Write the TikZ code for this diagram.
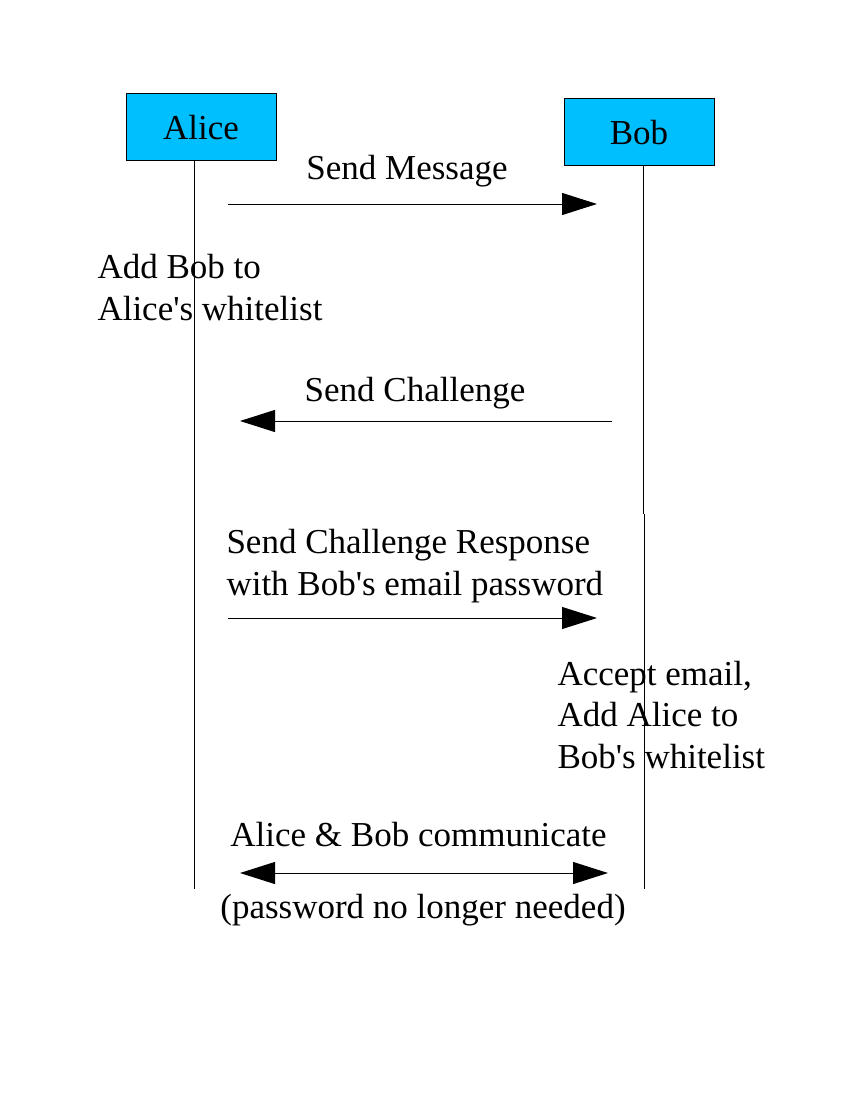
\documentclass[tikz,border=0pt]{standalone}
\usepackage{fontspec}
\setmainfont{Liberation Serif}
\usetikzlibrary{arrows.meta}

\definecolor{actorblue}{RGB}{0,191,255}

\begin{document}
\begin{tikzpicture}
  [x=1pt, y=-1pt, line width=1pt,
   every node/.style={inner sep=0pt, font=\fontsize{35}{41.5}\selectfont},
   actor/.style={draw=black, fill=actorblue, minimum width=150pt, minimum height=67pt},
   msg/.style={-{Triangle[length=35pt,width=22pt]}},
   twoway/.style={{Triangle[length=35pt,width=22pt]}-{Triangle[length=35pt,width=22pt]}},
   label/.style={anchor=base},
   note/.style={align=left, anchor=base west}]
  \useasboundingbox (0,0) rectangle (848,1102);

  % participants
  \node [actor] (alice) at (201,127.5) {Alice};
  \node [actor] (bob) at (639,132.5) {Bob};

  % lifelines
  \coordinate (aliceEnd) at (194,889);
  \coordinate (bobBreak) at (643,514);
  \coordinate (bobEnd) at (644,889);
  \draw (alice.south -| aliceEnd) -- (aliceEnd);
  \draw (bob.south -| bobBreak) -- (bobBreak);
  \draw (bobBreak -| bobEnd) -- (bobEnd);

  % message ends
  \coordinate (msgA) at (228,204);
  \coordinate (msgB) at (597,204);
  \coordinate (chalB) at (612,421);
  \coordinate (chalA) at (240,421);
  \coordinate (respA) at (228,618);
  \coordinate (respB) at (597,618);
  \coordinate (commA) at (240,873);
  \coordinate (commB) at (608,873);

  \draw [msg] (msgA) -- (msgB);
  \draw [msg] (chalB) -- (chalA);
  \draw [msg] (respA) -- (respB);
  \draw [twoway] (commA) -- (commB);

  % labels
  \node [label] (sendmsg) at (407,179) {Send Message};
  \node [label] (sendchal) at (415,401) {Send Challenge};
  \node [label] (comm) at (418.5,846) {Alice \& Bob communicate};
  \node [label] (nopass) at (423,918) {(password no longer needed)};

  % notes (anchored at the last line)
  \node [note] (aliceNote) at (97,320) {Add Bob to\\Alice\textquotesingle s whitelist};
  \node [note] (respNote) at (226,595) {Send Challenge Response\\with Bob\textquotesingle s email password};
  \node [note] (bobNote) at (557,768) {Accept email,\\Add Alice to\\Bob\textquotesingle s whitelist};
\end{tikzpicture}
\end{document}
